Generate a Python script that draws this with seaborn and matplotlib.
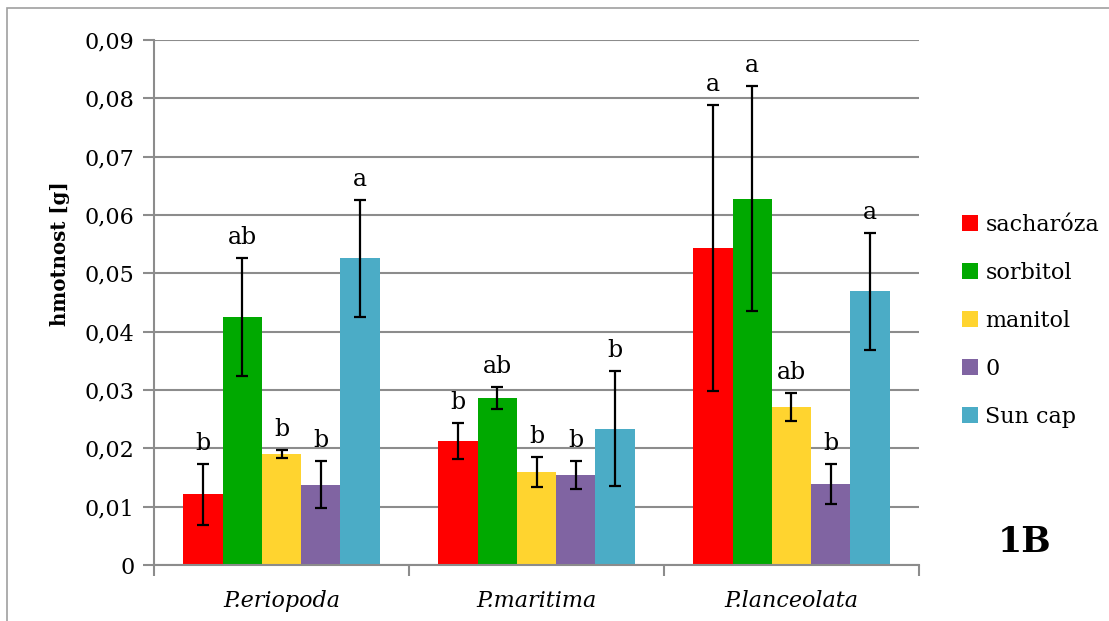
import matplotlib
matplotlib.use("Agg")
import matplotlib.pyplot as plt
import seaborn as sns
import pandas as pd
import numpy as np
from matplotlib.patches import Patch, Rectangle
from matplotlib.ticker import FuncFormatter, MultipleLocator

species = ["P.eriopoda", "P.maritima", "P.lanceolata"]
treatments = ["sacharóza", "sorbitol", "manitol", "0", "Sun cap"]
colors = ["#FF0000", "#00A900", "#FFD42F", "#8064A2", "#4BACC6"]

sacharoza = [0.0121, 0.0212, 0.0544]
sorbitol = [0.0425, 0.0286, 0.0628]
manitol = [0.0190, 0.0159, 0.0271]
nula = [0.0138, 0.0155, 0.0139]
suncap = [0.0526, 0.0234, 0.0469]

err_sacharoza = [0.0052, 0.0031, 0.0245]
err_sorbitol = [0.0101, 0.0019, 0.0193]
err_manitol = [0.0007, 0.0026, 0.0024]
err_nula = [0.0041, 0.0024, 0.0034]
err_suncap = [0.0100, 0.0099, 0.0100]

let_sacharoza = ["b", "b", "a"]
let_sorbitol = ["ab", "ab", "a"]
let_manitol = ["b", "b", "ab"]
let_nula = ["b", "b", "b"]
let_suncap = ["a", "b", "a"]

vals = [sacharoza, sorbitol, manitol, nula, suncap]
errs = [err_sacharoza, err_sorbitol, err_manitol, err_nula, err_suncap]
lets = [let_sacharoza, let_sorbitol, let_manitol, let_nula, let_suncap]

rows = []
for t, v, e, l in zip(treatments, vals, errs, lets):
    for s, vv, ee, ll in zip(species, v, e, l):
        rows.append(dict(species=s, treatment=t, value=vv, err=ee, letter=ll))
df = pd.DataFrame(rows)

sns.set_theme(style="white")
serif = ["DejaVu Serif", "Liberation Serif"]
plt.rcParams["font.family"] = serif
for k in ["text.color", "axes.labelcolor", "xtick.labelcolor", "ytick.labelcolor"]:
    plt.rcParams[k] = "black"
FS = 16

fig = plt.figure(figsize=(11.09, 6.21), dpi=100)
ax = fig.add_axes([154/1109, 1-565/621, (919-154)/1109, (565-40)/621])

sns.barplot(data=df, x="species", y="value", hue="treatment",
            order=species, hue_order=treatments,
            palette=colors, width=0.77, gap=0, errorbar=None,
            saturation=1, ax=ax, legend=False, linewidth=0)

# error bars and letters from bar positions
for ti, t in enumerate(treatments):
    cont = ax.containers[ti]
    for si, bar in enumerate(cont.patches):
        xc = bar.get_x() + bar.get_width() / 2
        h = bar.get_height()
        e = errs[ti][si]
        ax.errorbar(xc, h, yerr=e, fmt="none", ecolor="black",
                    elinewidth=1.6, capsize=4.5, capthick=1.6, zorder=5)
        ax.annotate(lets[ti][si], (xc, h + e), xytext=(0, 10),
                    textcoords="offset points", ha="center", va="baseline",
                    fontsize=17, color="black")

ax.set_ylim(0, 0.09)
ax.set_xlim(-0.5, 2.5)
ax.yaxis.set_major_locator(MultipleLocator(0.01))
ax.yaxis.set_major_formatter(FuncFormatter(
    lambda v, p: "0" if abs(v) < 1e-9 else f"{v:.2f}".replace(".", ",")))
ax.grid(axis="y", color="#8C8C8C", linewidth=1.5)
ax.set_axisbelow(True)
for sp in ["top", "right"]:
    ax.spines[sp].set_visible(False)
for sp in ["left", "bottom"]:
    ax.spines[sp].set_color("#8C8C8C")
    ax.spines[sp].set_linewidth(1.5)

ax.tick_params(axis="y", which="major", direction="out", length=8,
               width=1.5, color="#8C8C8C", labelsize=FS, pad=6, left=True)
ax.set_xticks([0, 1, 2])
ax.set_xticklabels(species, fontsize=FS, style="italic")
ax.tick_params(axis="x", which="major", length=0, pad=18)
ax.set_xticks([-0.5, 0.5, 1.5, 2.5], minor=True)
ax.tick_params(axis="x", which="minor", direction="out", length=8,
               width=1.5, color="#8C8C8C", bottom=True)

ax.set_xlabel("")
ax.set_ylabel("hmotnost [g]", fontsize=14.2, fontweight="bold")
ax.yaxis.set_label_coords((70 - 154) / 765, (565 - 254) / 525)

handles = [Patch(facecolor=c, edgecolor="none", label=t)
           for c, t in zip(colors, treatments)]
fig.legend(handles=handles, loc="upper left", bbox_to_anchor=(962/1109, 1-214/621),
           frameon=False, fontsize=FS, handlelength=0.7, handleheight=0.7,
           handletextpad=0.35, labelspacing=1.17, borderaxespad=0, borderpad=0)

fig.text(1025/1109, 1-542/621, "1B", fontsize=25, fontweight="bold",
         ha="center", va="center")

fig.patches.append(Rectangle((7/1109, -0.05), 1.1, 1-8/621+0.05,
                             transform=fig.transFigure, fill=False,
                             edgecolor="#A0A0A0", linewidth=1.2))

fig.savefig("out.png", dpi=100)
